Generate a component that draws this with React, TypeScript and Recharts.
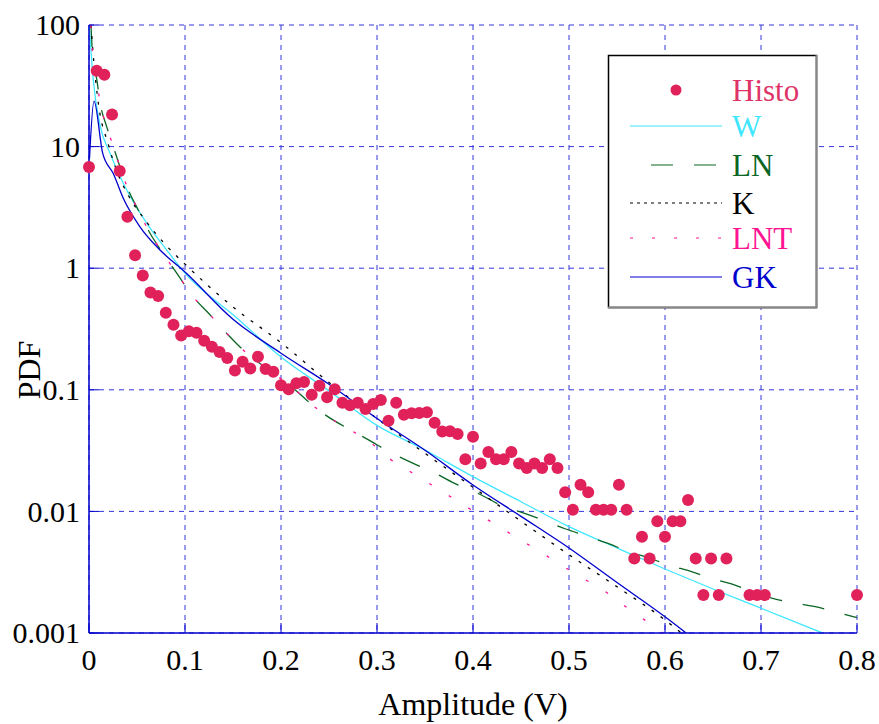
import React from 'react';
import { ComposedChart, Line, Scatter, XAxis, YAxis, CartesianGrid } from 'recharts';

// histogram (bin centre, pdf)
const HISTO_X = [
  0, 0.008, 0.016, 0.024, 0.032, 0.04, 0.048, 0.056, 0.064, 0.072, 0.08, 0.088, 0.096,
  0.104, 0.112, 0.12, 0.128, 0.136, 0.144, 0.152, 0.16, 0.168, 0.176, 0.184, 0.192,
  0.2, 0.208, 0.216, 0.224, 0.232, 0.24, 0.248, 0.256, 0.264, 0.272, 0.28, 0.288, 0.296,
  0.304, 0.312, 0.32, 0.328, 0.336, 0.344, 0.352, 0.36, 0.368, 0.376, 0.384, 0.392,
  0.4, 0.408, 0.416, 0.424, 0.432, 0.44, 0.448, 0.456, 0.464, 0.472, 0.48, 0.488, 0.496,
  0.504, 0.512, 0.52, 0.528, 0.536, 0.544, 0.552, 0.56, 0.568, 0.576, 0.584, 0.592,
  0.6, 0.608, 0.616, 0.624, 0.632, 0.64, 0.648, 0.656, 0.664, 0.688, 0.696, 0.704, 0.8,
];
const HISTO_PDF = [
  6.8, 42, 39, 18.4, 6.3, 2.65, 1.28, 0.87, 0.63, 0.59, 0.43, 0.343, 0.279,
  0.303, 0.295, 0.253, 0.226, 0.205, 0.183, 0.144, 0.17, 0.15, 0.187, 0.148, 0.141,
  0.109, 0.101, 0.113, 0.116, 0.091, 0.108, 0.0867, 0.101, 0.0784, 0.0746, 0.0784, 0.0695, 0.0764,
  0.0824, 0.0557, 0.0784, 0.0624, 0.0641, 0.0645, 0.0655, 0.0536, 0.0454, 0.0456, 0.0433, 0.0268,
  0.0411, 0.0248, 0.0308, 0.0268, 0.0268, 0.0308, 0.0248, 0.0227, 0.0248, 0.0227, 0.0268, 0.0227, 0.0144,
  0.0103, 0.0166, 0.0144, 0.0103, 0.0103, 0.0103, 0.0166, 0.0103, 0.0041, 0.0062, 0.0041, 0.0083,
  0.0062, 0.0083, 0.0083, 0.0124, 0.0041, 0.00205, 0.0041, 0.00205, 0.0041, 0.00205, 0.00205, 0.00205, 0.00205,
];

// fitted models
const W_X = [0.0003, 0.0045, 0.0115, 0.0219, 0.0357, 0.0601, 0.0809, 0.1, 0.154, 0.2, 0.25, 0.3, 0.35, 0.4, 0.45, 0.5, 0.55, 0.6, 0.65, 0.7, 0.764];
const W_PDF = [97, 35, 15, 8.8, 5.0, 2.35, 1.41, 0.91, 0.39, 0.186, 0.098, 0.051, 0.032, 0.0193, 0.012, 0.0075, 0.005, 0.00336, 0.0023, 0.0016, 0.001];

const LN_X = [0.002, 0.0042, 0.008, 0.0115, 0.0184, 0.0253, 0.0323, 0.041, 0.0514, 0.0618, 0.0757, 0.0914, 0.1086, 0.1253, 0.1455, 0.1643, 0.18, 0.2164, 0.2268, 0.2476, 0.2719, 0.2948, 0.31, 0.34, 0.3615, 0.3836, 0.4066, 0.4316, 0.4507, 0.4726, 0.4958, 0.5177, 0.5393, 0.5614, 0.5768, 0.6052, 0.6276, 0.649, 0.6714, 0.6969, 0.715, 0.7373, 0.759, 0.7813, 0.8];
const LN_PDF = [100, 51, 36, 23, 14.6, 10, 6.8, 4.4, 3.0, 2.05, 1.37, 0.91, 0.58, 0.42, 0.28, 0.2, 0.16, 0.0975, 0.082, 0.061, 0.047, 0.0373, 0.0317, 0.0244, 0.0204, 0.0166, 0.0139, 0.011, 0.0098, 0.0085, 0.0072, 0.0063, 0.0055, 0.0047, 0.0043, 0.0036, 0.0032, 0.0028, 0.0025, 0.0021, 0.0019, 0.00175, 0.00163, 0.00146, 0.00134];

const K_X = [0.002, 0.005, 0.01, 0.02, 0.03, 0.04, 0.06, 0.08, 0.1, 0.15, 0.2, 0.25, 0.3, 0.35, 0.4, 0.45, 0.5, 0.55, 0.6, 0.617];
const K_PDF = [100, 50, 22, 10.5, 6.0, 4.1, 2.4, 1.55, 1.08, 0.48, 0.244, 0.115, 0.058, 0.03, 0.0158, 0.0083, 0.0044, 0.0024, 0.00128, 0.001];

const LNT_X = [0.002, 0.0042, 0.008, 0.0115, 0.0184, 0.0253, 0.0323, 0.041, 0.0514, 0.0618, 0.0757, 0.0914, 0.1086, 0.1253, 0.1455, 0.1643, 0.18, 0.2164, 0.2268, 0.2476, 0.2719, 0.2948, 0.3135, 0.336, 0.358, 0.38, 0.4028, 0.4247, 0.4469, 0.469, 0.513, 0.5354, 0.558, 0.5795, 0.598];
const LNT_PDF = [100, 51, 36, 23, 14.6, 10, 6.8, 4.4, 3.0, 2.05, 1.37, 0.91, 0.58, 0.42, 0.28, 0.2, 0.16, 0.0975, 0.082, 0.061, 0.047, 0.036, 0.027, 0.0209, 0.0163, 0.0127, 0.0098, 0.0077, 0.006, 0.0047, 0.00286, 0.00226, 0.00167, 0.00127, 0.001];

const GK_X = [0.0005, 0.0052, 0.0143, 0.0253, 0.0357, 0.0531, 0.074, 0.1, 0.15, 0.2, 0.25, 0.3, 0.35, 0.4, 0.45, 0.5, 0.55, 0.6, 0.622];
const GK_PDF = [8, 23.7, 8.8, 6.0, 3.76, 2.19, 1.41, 0.93, 0.38, 0.2, 0.111, 0.058, 0.0318, 0.0165, 0.0091, 0.005, 0.0026, 0.00136, 0.001];

const X_TICKS = [0, 0.1, 0.2, 0.3, 0.4, 0.5, 0.6, 0.7, 0.8];
const Y_TICKS = [0.001, 0.01, 0.1, 1, 10, 100];

const zip = (xs: number[], ys: number[]) => xs.map((x, i) => ({ x, y: ys[i] }));

const FONT = 'Liberation Serif';
const FRAME = '#0000CC';

const SERIES = [
  { name: 'W', data: zip(W_X, W_PDF), color: '#3FE6FF', dash: undefined, text: '#3FE6FF' },
  { name: 'LN', data: zip(LN_X, LN_PDF), color: '#0B6623', dash: '22 21', text: '#0B6623' },
  { name: 'K', data: zip(K_X, K_PDF), color: '#000000', dash: '3 8', text: '#000000' },
  { name: 'LNT', data: zip(LNT_X, LNT_PDF), color: '#FF1493', dash: '3 20', text: '#FF1493' },
  { name: 'GK', data: zip(GK_X, GK_PDF), color: '#0000CD', dash: undefined, text: '#0000CD' },
];

const HISTO_COLOR = '#E0215A';

function Dot(props: any) {
  if (props.cx == null || props.cy == null) return null;
  return <circle cx={props.cx} cy={props.cy} r={6} fill={HISTO_COLOR} />;
}

function SerifTick(props: any) {
  const { x, y, payload, textAnchor } = props;
  const anchor = textAnchor || 'middle';
  const dy = anchor === 'middle' ? '0.71em' : '0.34em';
  return (
    <text x={x} y={y} dy={dy} textAnchor={anchor} fontFamily={FONT} fontSize={30} fill="#000">
      {payload.value}
    </text>
  );
}

function LegendBox() {
  const rows = [90, 126, 165, 203, 238, 277];
  return (
    <svg width={879} height={724} style={{ position: 'absolute', left: 0, top: 0, pointerEvents: 'none' }}>
      <rect x={608.5} y={55.5} width={208} height={252} fill="#fff" stroke="#000" strokeWidth={1.5} />
      <line x1={816.5} y1={55} x2={816.5} y2={308} stroke="#888" strokeWidth={2} />
      <line x1={608} y1={307.5} x2={817} y2={307.5} stroke="#888" strokeWidth={2} />
      <circle cx={676} cy={rows[0]} r={5.5} fill={HISTO_COLOR} />
      <text x={732} y={rows[0]} dy="0.35em" fontFamily={FONT} fontSize={31} fill="#DD3366">Histo</text>
      {SERIES.map((s, i) => (
        <g key={s.name}>
          {s.name === 'LN' ? (
            <line x1={651} x2={717} y1={rows[i + 1]} y2={rows[i + 1]} stroke={s.color} strokeWidth={1.2} strokeDasharray="22 21" />
          ) : (
            <line x1={630} x2={722} y1={rows[i + 1]} y2={rows[i + 1]} stroke={s.color} strokeWidth={1.2} strokeDasharray={s.name === 'LNT' ? '3 19' : s.name === 'K' ? '3 4' : undefined} />
          )}
          <text x={732} y={rows[i + 1]} dy="0.35em" fontFamily={FONT} fontSize={31} fill={s.text}>{s.name}</text>
        </g>
      ))}
    </svg>
  );
}

export default function App() {
  return (
    <div style={{ position: 'absolute', left: 0, top: 0, width: 879, height: 724, background: '#fff', fontFamily: FONT }}>
      <ComposedChart width={879} height={724} margin={{ top: 25, right: 22, bottom: 0, left: 0 }}>
        <CartesianGrid stroke="#3535DD" strokeDasharray="5 5" strokeWidth={1} />
        <XAxis
          type="number"
          dataKey="x"
          domain={[0, 0.8]}
          ticks={X_TICKS}
          height={91}
          tickSize={-10}
          tickMargin={26}
          tick={<SerifTick />}
          axisLine={{ stroke: FRAME, strokeWidth: 1.5 }}
          tickLine={{ stroke: FRAME }}
          label={{
            content: () => (
              <text x={473} y={715} textAnchor="middle" fontFamily={FONT} fontSize={32} fill="#000">Amplitude (V)</text>
            ),
          }}
        />
        <XAxis
          xAxisId="top"
          orientation="top"
          type="number"
          dataKey="x"
          domain={[0, 0.8]}
          ticks={X_TICKS}
          height={0}
          tickSize={-10}
          tick={false}
          axisLine={{ stroke: FRAME, strokeWidth: 1.5 }}
          tickLine={{ stroke: FRAME }}
        />
        <YAxis
          type="number"
          scale="log"
          domain={[0.001, 100]}
          allowDataOverflow
          ticks={Y_TICKS}
          width={89}
          tickSize={-10}
          tickMargin={19}
          tick={<SerifTick />}
          axisLine={{ stroke: FRAME, strokeWidth: 1.5 }}
          tickLine={{ stroke: FRAME }}
          label={{
            content: () => (
              <text transform="translate(40,370) rotate(-90)" textAnchor="middle" fontFamily={FONT} fontSize={32} fill="#000">PDF</text>
            ),
          }}
        />
        <YAxis
          yAxisId="right"
          orientation="right"
          type="number"
          scale="log"
          domain={[0.001, 100]}
          allowDataOverflow
          ticks={Y_TICKS}
          width={0}
          tickSize={-10}
          tick={false}
          axisLine={{ stroke: FRAME, strokeWidth: 1.5 }}
          tickLine={{ stroke: FRAME }}
        />
        <Scatter data={zip(HISTO_X, HISTO_PDF)} dataKey="y" fill={HISTO_COLOR} shape={Dot} isAnimationActive={false} />
        {SERIES.map((s) => (
          <Line
            key={s.name}
            data={s.data}
            dataKey="y"
            type="monotone"
            stroke={s.color}
            strokeWidth={1.3}
            strokeDasharray={s.dash}
            dot={false}
            activeDot={false}
            isAnimationActive={false}
          />
        ))}
      </ComposedChart>
      <LegendBox />
    </div>
  );
}
